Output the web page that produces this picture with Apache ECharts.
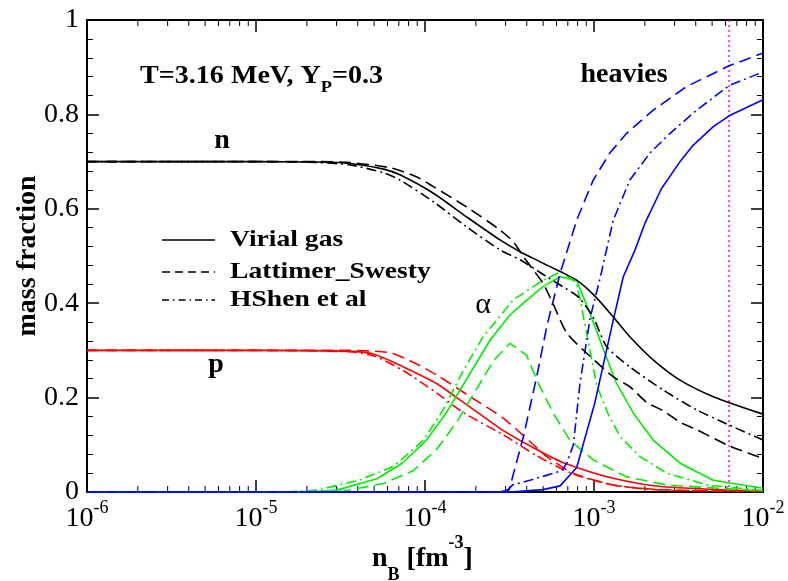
<!DOCTYPE html>
<html>
<head>
<meta charset="utf-8">
<title>mass fraction</title>
<script src="https://cdn.jsdelivr.net/npm/echarts@6.0.0/dist/echarts.min.js"></script>
<style>
html, body { margin: 0; padding: 0; background: #fff; }
#chart { width: 788px; height: 581px; }
</style>
</head>
<body>
<div id="chart"></div>
<script>
// values, [nB (fm^-3), mass fraction]
var nVirial = [[1e-6,0.7],[1e-5,0.7],[2.3e-5,0.699],[3.6e-5,0.696],[5.7e-5,0.684],[7.1e-5,0.672],[1.12e-4,0.633],[1.76e-4,0.583],[2.78e-4,0.534],[3.65e-4,0.509],[4.79e-4,0.488],[6.3e-4,0.467],[7.9e-4,0.449],[1.0e-3,0.417],[1.3e-3,0.371],[1.63e-3,0.329],[2.24e-3,0.280],[3.23e-3,0.237],[5.08e-3,0.202],[1e-2,0.165]];
var nLS = [[1e-6,0.7],[1e-5,0.7],[2.3e-5,0.7],[3.6e-5,0.698],[6.2e-5,0.687],[8.9e-5,0.668],[1.12e-4,0.647],[1.76e-4,0.604],[2.78e-4,0.555],[3.33e-4,0.530],[3.82e-4,0.499],[4.38e-4,0.470],[5.0e-4,0.442],[5.74e-4,0.398],[6.9e-4,0.337],[9.06e-4,0.294],[1.3e-3,0.244],[1.63e-3,0.223],[2.05e-3,0.190],[2.57e-3,0.172],[3.23e-3,0.148],[4.05e-3,0.132],[6.3e-3,0.098],[1e-2,0.071]];
var nHS = [[1e-6,0.7],[1e-5,0.7],[2.3e-5,0.698],[3.6e-5,0.693],[5.7e-5,0.676],[7.1e-5,0.661],[1.12e-4,0.615],[1.76e-4,0.562],[2.78e-4,0.513],[3.65e-4,0.492],[5.25e-4,0.456],[7.55e-4,0.421],[8.26e-4,0.410],[9.9e-4,0.370],[1.19e-3,0.308],[1.63e-3,0.265],[2.57e-3,0.216],[4.05e-3,0.174],[6.3e-3,0.142],[1e-2,0.110]];

var pVirial = [[1e-6,0.3],[1e-5,0.3],[3.6e-5,0.298],[5.0e-5,0.292],[7.45e-5,0.265],[1.17e-4,0.230],[1.54e-4,0.200],[1.85e-4,0.180],[2.91e-4,0.130],[4.58e-4,0.090],[6.6e-4,0.062],[1.3e-3,0.029],[2.57e-3,0.011],[1e-2,0.002]];
var pLS = [[1e-6,0.3],[1e-5,0.3],[3.6e-5,0.3],[6.2e-5,0.295],[8.5e-5,0.275],[1.17e-4,0.248],[1.85e-4,0.202],[2.91e-4,0.156],[4.18e-4,0.107],[5.25e-4,0.075],[7.55e-4,0.040],[1.3e-3,0.015],[2.5e-3,0.005],[1e-2,0.001]];
var pHS = [[1e-6,0.3],[1e-5,0.3],[3.6e-5,0.297],[5.0e-5,0.288],[7.45e-5,0.257],[1.17e-4,0.210],[1.69e-4,0.168],[2.91e-4,0.121],[4.58e-4,0.077],[7.55e-4,0.038],[1.3e-3,0.015],[2.5e-3,0.004],[1e-2,0.001]];

var alphaVirial = [[1e-6,0],[2.0e-5,0],[3.0e-5,0.004],[5.2e-5,0.028],[7.4e-5,0.062],[1.02e-4,0.110],[1.34e-4,0.168],[1.77e-4,0.240],[2.43e-4,0.322],[3.18e-4,0.375],[3.82e-4,0.400],[5.0e-4,0.435],[6.3e-4,0.456],[7.9e-4,0.448],[9.46e-4,0.379],[1.14e-3,0.301],[1.36e-3,0.230],[1.71e-3,0.167],[2.24e-3,0.110],[3.23e-3,0.061],[5.08e-3,0.025],[1e-2,0.008]];
var alphaLS = [[1e-6,0],[2.5e-5,0],[3.3e-5,0.002],[5.7e-5,0.018],[8.5e-5,0.045],[1.17e-4,0.090],[1.54e-4,0.148],[2.02e-4,0.218],[2.54e-4,0.278],[3.18e-4,0.315],[3.99e-4,0.290],[4.68e-4,0.230],[5.74e-4,0.167],[7.2e-4,0.110],[9.9e-4,0.068],[1.56e-3,0.032],[2.69e-3,0.015],[1e-2,0.002]];
var alphaHS = [[1e-6,0],[1.5e-5,0],[2.3e-5,0.004],[4.1e-5,0.025],[6.5e-5,0.054],[9.8e-5,0.110],[1.28e-4,0.174],[1.69e-4,0.258],[2.21e-4,0.329],[3.33e-4,0.407],[5.0e-4,0.449],[6.44e-4,0.467],[7.9e-4,0.442],[8.5e-4,0.386],[9.46e-4,0.301],[1.04e-3,0.225],[1.22e-3,0.163],[1.43e-3,0.117],[1.87e-3,0.075],[2.69e-3,0.040],[4.65e-3,0.015],[1e-2,0.003]];

var heavyVirial = [[1e-6,0],[3.2e-4,0],[5.0e-4,0.005],[6.3e-4,0.013],[7.9e-4,0.052],[1.01e-3,0.188],[1.3e-3,0.364],[1.49e-3,0.456],[1.75e-3,0.513],[2.0e-3,0.569],[2.51e-3,0.643],[3.23e-3,0.700],[3.87e-3,0.735],[5.08e-3,0.774],[6.3e-3,0.797],[1e-2,0.831]];
var heavyLS = [[1e-6,0],[2.8e-4,0],[3.15e-4,0.005],[3.82e-4,0.117],[4.58e-4,0.244],[5.25e-4,0.350],[6.3e-4,0.463],[7.9e-4,0.576],[9.9e-4,0.661],[1.24e-3,0.718],[1.56e-3,0.760],[2.24e-3,0.809],[3.53e-3,0.859],[6.3e-3,0.903],[1e-2,0.930]];
var heavyHS = [[1e-6,0],[3.0e-4,0],[3.3e-4,0.015],[4.18e-4,0.025],[6.44e-4,0.045],[6.9e-4,0.061],[7.55e-4,0.100],[8.26e-4,0.230],[9.5e-4,0.370],[1.09e-3,0.455],[1.3e-3,0.576],[1.63e-3,0.661],[2.14e-3,0.718],[2.82e-3,0.760],[4.05e-3,0.809],[6.3e-3,0.861],[1e-2,0.890]];

var markerLine = [[6.3e-3,0],[6.3e-3,1]];
var yTicks = { min: 0, max: 1, step: 0.2 };
var xDecades = [-6, -5, -4, -3, -2];

var FONT = '"Liberation Serif", "DejaVu Serif", serif';
var SOLID = 'solid', DASH = [12, 6], DASHDOT = [10, 4, 2, 4];

var chart = echarts.init(document.getElementById('chart'), null, { renderer: 'canvas' });

function curve(data, color, dash, smooth) {
	return {
		type: 'line',
		data: data,
		showSymbol: false,
		symbol: 'none',
		silent: true,
		smooth: smooth || false,
		lineStyle: { color: color, width: 1.6, type: dash },
		z: 3
	};
}

// minor ticks of the log axis, 2..9 in every decade
var minorVals = [];
for (var d = 0; d < xDecades.length - 1; d++) {
	for (var k = 2; k <= 9; k++) {
		minorVals.push([k * Math.pow(10, xDecades[d]), 0]);
	}
}

function xLabel(v) {
	var e = Math.round(Math.log(v) / Math.LN10);
	return '{b|10}{s|' + e + '}';
}

var axisLine = { show: true, onZero: false, lineStyle: { color: '#000', width: 2 } };

var option = {
	animation: false,
	backgroundColor: '#fff',
	textStyle: { fontFamily: FONT },
	grid: { left: 87, right: 25, top: 20, bottom: 89, containLabel: false, outerBoundsMode: 'none' },
	xAxis: [
		{
			type: 'log', logBase: 10, min: 1e-6, max: 1e-2, position: 'bottom',
			axisLine: axisLine,
			axisTick: { show: true, inside: true, length: 12, lineStyle: { color: '#000', width: 1.5 } },
			splitLine: { show: false },
			axisLabel: {
				show: true, margin: 7, formatter: xLabel, fontFamily: FONT,
				rich: {
					b: { fontFamily: FONT, fontSize: 28, color: '#000', lineHeight: 40, verticalAlign: 'middle' },
					s: { fontFamily: FONT, fontSize: 18, color: '#000', lineHeight: 16, verticalAlign: 'top' }
				}
			}
		},
		{
			type: 'log', logBase: 10, min: 1e-6, max: 1e-2, position: 'top',
			axisLine: axisLine,
			axisTick: { show: true, inside: true, length: 12, lineStyle: { color: '#000', width: 1.5 } },
			splitLine: { show: false },
			axisLabel: { show: false }
		}
	],
	yAxis: [
		{
			type: 'value', min: yTicks.min, max: yTicks.max, interval: yTicks.step, position: 'left',
			axisLine: axisLine,
			axisTick: { show: true, inside: true, length: 12, lineStyle: { color: '#000', width: 1.5 } },
			minorTick: { show: true, splitNumber: 5, length: 6, lineStyle: { color: '#000', width: 1 } },
			splitLine: { show: false },
			axisLabel: { show: true, margin: 8, fontFamily: FONT, fontSize: 28, color: '#000' }
		},
		{
			type: 'value', min: yTicks.min, max: yTicks.max, interval: yTicks.step, position: 'right',
			axisLine: axisLine,
			axisTick: { show: true, inside: true, length: 12, lineStyle: { color: '#000', width: 1.5 } },
			minorTick: { show: true, splitNumber: 5, length: 6, lineStyle: { color: '#000', width: 1 } },
			splitLine: { show: false },
			axisLabel: { show: false }
		}
	],
	series: [
		curve(pVirial, '#ff0000', SOLID, 0.25),
		curve(pLS, '#ff0000', DASH, 0.25),
		curve(pHS, '#ff0000', DASHDOT, 0.25),
		curve(alphaVirial, '#00ee00', SOLID),
		curve(alphaLS, '#00ee00', DASH),
		curve(alphaHS, '#00ee00', DASHDOT),
		curve(heavyVirial, '#0000ff', SOLID),
		curve(heavyLS, '#0000ff', DASH),
		curve(heavyHS, '#0000ff', DASHDOT),
		curve(nVirial, '#000000', SOLID, 0.25),
		curve(nLS, '#000000', DASH, 0.25),
		curve(nHS, '#000000', DASHDOT, 0.25),
		{
			type: 'line', data: markerLine, showSymbol: false, symbol: 'none', silent: true,
			lineStyle: { color: '#ff00ff', width: 1.5, type: [2, 3] }, z: 2
		},
		{
			type: 'custom', data: minorVals, silent: true, clip: false,
			renderItem: function (params, api) {
				var v = api.value(0);
				var b = api.coord([v, 0]);
				var t = api.coord([v, 1]);
				return {
					type: 'group',
					children: [
						{ type: 'line', shape: { x1: b[0], y1: b[1], x2: b[0], y2: b[1] - 6 }, style: { stroke: '#000', lineWidth: 1 } },
						{ type: 'line', shape: { x1: t[0], y1: t[1], x2: t[0], y2: t[1] + 6 }, style: { stroke: '#000', lineWidth: 1 } }
					]
				};
			}
		}
	],
	graphic: [
		{
			type: 'text', x: 140, y: 56, scaleX: 1.08,
			style: {
				text: '{b|T=3.16 MeV, Y}{u|P}{b|=0.3}', fill: '#000', fontFamily: FONT,
				rich: {
					b: { fontFamily: FONT, fontWeight: 'bold', fontSize: 26, lineHeight: 40, verticalAlign: 'middle' },
					u: { fontFamily: FONT, fontWeight: 'bold', fontSize: 17, lineHeight: 14, verticalAlign: 'bottom' }
				}
			}
		},
		{ type: 'text', x: 222, y: 141, style: { text: 'n', fontFamily: FONT, fontWeight: 'bold', fontSize: 28, fill: '#000', align: 'center', verticalAlign: 'middle' } },
		{ type: 'text', x: 216, y: 365, style: { text: 'p', fontFamily: FONT, fontWeight: 'bold', fontSize: 28, fill: '#000', align: 'center', verticalAlign: 'middle' } },
		{ type: 'text', x: 624, y: 75, style: { text: 'heavies', fontFamily: FONT, fontWeight: 'bold', fontSize: 28, fill: '#000', align: 'center', verticalAlign: 'middle' } },
		{ type: 'text', x: 483, y: 305, style: { text: 'α', fontFamily: FONT, fontSize: 30, fill: '#000', align: 'center', verticalAlign: 'middle' } },
		// legend
		{ type: 'line', shape: { x1: 162, y1: 240, x2: 215, y2: 240 }, style: { stroke: '#000', lineWidth: 1.6 } },
		{ type: 'line', shape: { x1: 162, y1: 272, x2: 215, y2: 272 }, style: { stroke: '#000', lineWidth: 1.6, lineDash: [8, 5] } },
		{ type: 'line', shape: { x1: 162, y1: 300, x2: 215, y2: 300 }, style: { stroke: '#000', lineWidth: 1.6, lineDash: [7, 4, 1.5, 4] } },
		{ type: 'text', x: 230, y: 240, scaleX: 1.2, style: { text: 'Virial gas', fontFamily: FONT, fontWeight: 'bold', fontSize: 23, fill: '#000', verticalAlign: 'middle' } },
		{ type: 'text', x: 230, y: 272, scaleX: 1.2, style: { text: 'Lattimer_Swesty', fontFamily: FONT, fontWeight: 'bold', fontSize: 23, fill: '#000', verticalAlign: 'middle' } },
		{ type: 'text', x: 230, y: 300, scaleX: 1.2, style: { text: 'HShen et al', fontFamily: FONT, fontWeight: 'bold', fontSize: 23, fill: '#000', verticalAlign: 'middle' } },
		// axis titles
		{
			type: 'text', x: 28, y: 256, rotation: Math.PI / 2,
			style: { text: 'mass fraction', fontFamily: FONT, fontWeight: 'bold', fontSize: 28, fill: '#000', align: 'center', verticalAlign: 'middle' }
		},
		{
			type: 'text', x: 372, y: 534,
			style: {
				text: '{b|n}{d|B}{b| [fm}{u|-3}{b|]}', fill: '#000', fontFamily: FONT,
				rich: {
					b: { fontFamily: FONT, fontWeight: 'bold', fontSize: 28, lineHeight: 50, verticalAlign: 'middle' },
					d: { fontFamily: FONT, fontWeight: 'bold', fontSize: 18, lineHeight: 20, verticalAlign: 'bottom' },
					u: { fontFamily: FONT, fontWeight: 'bold', fontSize: 18, lineHeight: 42, verticalAlign: 'top' }
				}
			}
		}
	]
};

chart.setOption(option);
</script>
</body>
</html>
